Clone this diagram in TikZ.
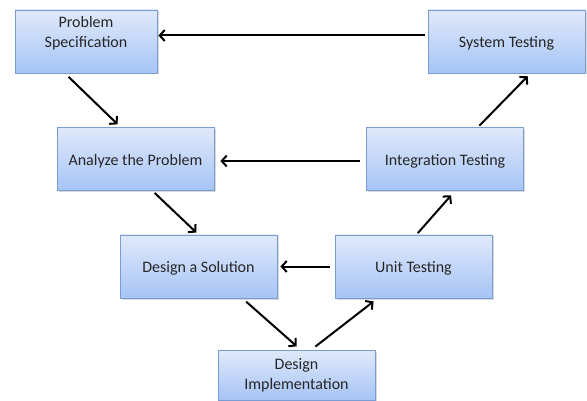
\documentclass[tikz,border=0pt]{standalone}
\usepackage{fontspec}
\setmainfont{Carlito}
\usetikzlibrary{arrows.meta,shadows}

\definecolor{boxtop}{RGB}{224,233,251}
\definecolor{boxbottom}{RGB}{166,196,245}
\definecolor{boxline}{RGB}{122,156,212}

\tikzset{
  stage/.style={draw=boxline, line width=0.8pt, top color=boxtop, bottom color=boxbottom,
    minimum width=157pt, minimum height=63pt, align=center, inner sep=2pt,
    font=\fontsize{16}{20}\selectfont, text=black!85,
    drop shadow={shadow xshift=1.5pt, shadow yshift=-1.5pt, fill=black!25, opacity=0.6}},
  oneline/.style={stage, text height=15pt},
  flow/.style={line width=2pt, -{Straight Barb[length=5pt,width=11pt,line width=2pt]}}
}

\begin{document}
\begin{tikzpicture}[x=1pt,y=-1pt]

    % Left side of the V
    \node[stage, minimum width=142pt, text depth=20pt] (spec) at (86,41.5) {Problem\\Specification};
    \node[oneline] (analyze) at (135.5,159) {Analyze the Problem};
    \node[oneline] (solution) at (198.5,266.5) {Design a Solution};

    % Bottom of the V
    \node[stage, minimum height=50pt] (impl) at (296.5,375) {Design\\Implementation};

    % Right side of the V
    \node[oneline] (unit) at (413.5,266.5) {Unit Testing};
    \node[oneline] (integ) at (445,159) {Integration Testing};
    \node[oneline] (system) at (506.5,41.5) {System Testing};

    % Going down
    \draw[flow, shorten <=5pt, shorten >=4pt] ([xshift=-21pt]spec.south) -- ([xshift=-15pt]analyze.north);
    \draw[flow, shorten <=3pt, shorten >=3pt] ([xshift=17pt]analyze.south) -- (solution.north);
    \draw[flow, shorten <=5pt, shorten >=5pt] ([xshift=44pt]solution.south) -- ([xshift=4pt]impl.north);

    % Going up
    \draw[flow, shorten <=5pt, shorten >=5pt] ([xshift=15pt]impl.north) -- ([xshift=-36pt]unit.south);
    \draw[flow, shorten <=2pt, shorten >=6pt] ([xshift=3pt]unit.north) -- ([xshift=10pt]integ.south);
    \draw[flow, shorten <=2pt, shorten >=4pt] ([xshift=33pt]integ.north) -- ([xshift=24pt]system.south);

    % Feedback from each test
    \draw[flow, shorten <=5pt, shorten >=3pt] (unit.west) -- (solution.east);
    \draw[flow, shorten <=6pt, shorten >=6pt] ([yshift=-2pt]integ.west) -- ([yshift=-2pt]analyze.east);
    \draw[flow, shorten <=3pt, shorten >=1pt] ([yshift=6pt]system.west) -- ([yshift=6pt]spec.east);

    % Page size
    \pgfresetboundingbox
    \useasboundingbox (0,0) rectangle (587,401);
\end{tikzpicture}
\end{document}
